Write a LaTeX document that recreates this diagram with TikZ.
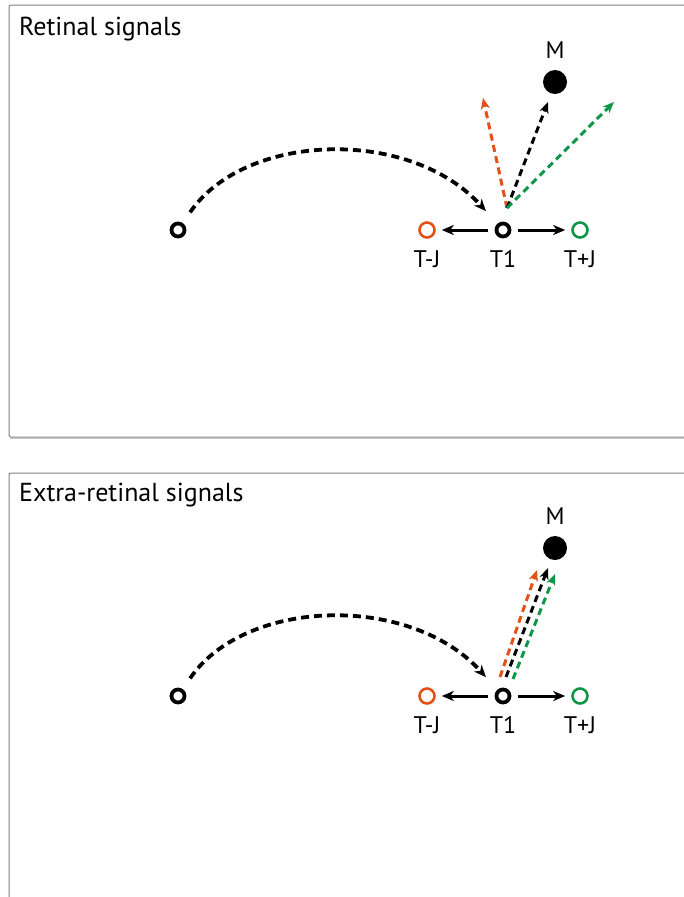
\documentclass[tikz,border=0pt]{standalone}
\usepackage{fontspec}
\setmainfont{PT Sans}
\usepackage{xcolor}
\usetikzlibrary{arrows.meta,positioning,calc}
\definecolor{jorange}{RGB}{226,82,24}
\definecolor{jgreen}{RGB}{16,150,72}
\definecolor{framegray}{RGB}{128,128,128}

\begin{document}
\begin{tikzpicture}[x=1pt,y=-1pt,>={Stealth[length=12pt,width=10pt,inset=3.5pt]}]
  \tikzstyle{target}=[circle,draw,line width=3.8pt,minimum size=13pt,inner sep=0pt]
  \tikzstyle{probe}=[circle,draw,line width=2.6pt,minimum size=15pt,inner sep=0pt]
  \tikzstyle{goal}=[circle,fill,minimum size=24pt,inner sep=0pt]
  \tikzstyle{lbl}=[font=\fontsize{24}{26}\selectfont,inner sep=0pt]
  \tikzstyle{title}=[font=\fontsize{26}{28}\selectfont,anchor=base west,inner sep=0pt]
  \tikzstyle{panel}=[draw=framegray,line width=1pt,rounded corners=2pt]
  \tikzstyle{saccade}=[->,line width=3.8pt,dash pattern=on 8pt off 5pt]
  \tikzstyle{signal}=[->,line width=3pt,dash pattern=on 7pt off 4.5pt,>={Stealth[length=11pt,width=9pt,inset=3pt]}]
  \tikzstyle{jump}=[->,line width=3pt,shorten <=7pt,shorten >=6pt]
  \useasboundingbox (0,0) rectangle (683,897);

  % frames
  \draw[gray!45,line width=1.2pt] (10,438.5) -- (700,438.5);
  \draw[panel] (700,437) -- (9,437) -- (9,5) -- (700,5);
  \draw[panel] (700,473) -- (9,473) -- (9,910);

  % retinal signals
  \node[title] (ttl1) at (19,35) {Retinal signals};
  \node[target] (s1) at (178,230) {};
  \node[target] (t1) at (503,230) {};
  \node[probe,draw=jorange] (tm1) at (427,230) {};
  \node[probe,draw=jgreen] (tp1) at (580,230) {};
  \node[goal] (m1) at (555,82) {};
  \node[lbl,above=11pt of m1] (ml1) {M};
  \node[lbl,below=12pt of tm1] (tml1) {T-J};
  \node[lbl,below=12pt of t1] (tl1) {T1};
  \node[lbl,below=12pt of tp1] (tpl1) {T+J};
  \draw[saccade,shorten <=13pt,shorten >=17pt] (s1) .. controls (245,132) and (410,127) .. (t1);
  \draw[jump] (t1) -- (tm1);
  \draw[jump] (t1) -- (tp1);
  \coordinate (f1) at (507,208);
  \coordinate (eo1) at (483,98);
  \coordinate (ek1) at (548,102);
  \coordinate (eg1) at (614,102);
  \draw[signal,jorange] (f1) -- (eo1);
  \draw[signal] (f1) -- (ek1);
  \draw[signal,jgreen] (f1) -- (eg1);

  % extra-retinal signals
  \begin{scope}[yshift=-466pt]
    \node[title] (ttl2) at (19,35) {Extra-retinal signals};
    \node[target] (s2) at (178,230) {};
    \node[target] (t2) at (503,230) {};
    \node[probe,draw=jorange] (tm2) at (427,230) {};
    \node[probe,draw=jgreen] (tp2) at (580,230) {};
    \node[goal] (m2) at (555,82) {};
    \node[lbl,above=11pt of m2] (ml2) {M};
    \node[lbl,below=12pt of tm2] (tml2) {T-J};
    \node[lbl,below=12pt of t2] (tl2) {T1};
    \node[lbl,below=12pt of tp2] (tpl2) {T+J};
    \draw[saccade,shorten <=13pt,shorten >=17pt] (s2) .. controls (245,132) and (410,127) .. (t2);
    \draw[jump] (t2) -- (tm2);
    \draw[jump] (t2) -- (tp2);
    \coordinate (fo2) at (500,211);
    \coordinate (fk2) at (506,211);
    \coordinate (fg2) at (513,213);
    \coordinate (eo2) at (537,104);
    \coordinate (ek2) at (548,102);
    \coordinate (eg2) at (555,108);
    \draw[signal,jorange] (fo2) -- (eo2);
    \draw[signal] (fk2) -- (ek2);
    \draw[signal,jgreen] (fg2) -- (eg2);
  \end{scope}
\end{tikzpicture}
\end{document}
